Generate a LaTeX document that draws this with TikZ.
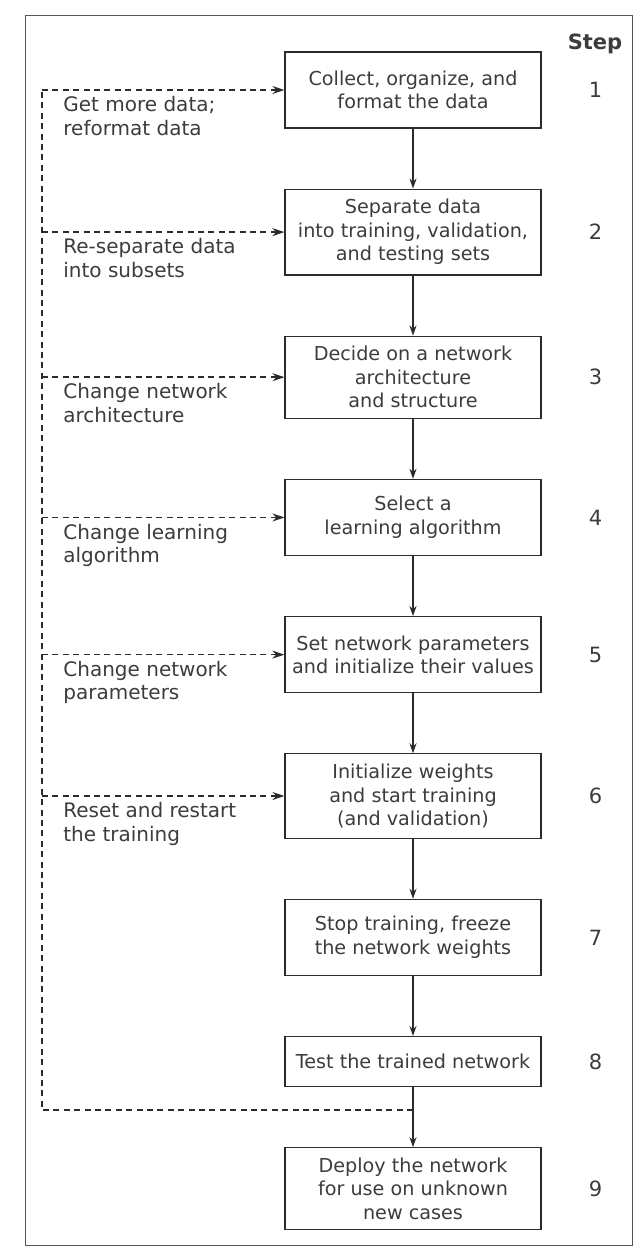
\documentclass[tikz,border=0pt]{standalone}
\usepackage{fontspec}
\setmainfont{DejaVu Sans}
\usetikzlibrary{arrows.meta,positioning}
\definecolor{flowInk}{HTML}{2B2B2B}
\definecolor{flowText}{HTML}{3C3C3C}
\definecolor{flowFrame}{HTML}{555555}

\begin{document}
\begin{tikzpicture}[
  x=1pt,y=1pt,
  node distance=30pt,
  stagebox/.style={rectangle,draw=flowInk,line width=0.6pt,align=center,minimum width=128pt,minimum height=38pt,inner xsep=2pt,inner ysep=5pt,text=flowText,font=\fontsize{9.6}{11.8}\selectfont},
  stepnum/.style={text=flowText,font=\fontsize{10.5}{12}\selectfont},
  note/.style={align=left,anchor=north west,inner sep=1pt,text=flowText,font=\fontsize{10}{11.8}\selectfont},
  flow/.style={-{Stealth[length=5pt,width=3.5pt]},line width=0.8pt,color=flowInk},
  feedback/.style={dash pattern=on 3pt off 2.2pt,line width=0.8pt,color=flowInk},
  feedarrow/.style={feedback,-{Stealth[length=6pt,width=4pt]}}
]
\useasboundingbox (0,0) rectangle (321,-629);
\draw[flowFrame,line width=0.5pt] (12.5,-7.5) rectangle (316,-622.5);

\node[stagebox] (collect) at (206.5,-45) {Collect, organize, and\\format the data};
\node[stagebox,below=of collect] (separate) {Separate data\\into training, validation,\\and testing sets};
\node[stagebox,below=of separate] (architecture) {Decide on a network\\architecture\\and structure};
\node[stagebox,below=of architecture] (algorithm) {Select a\\learning algorithm};
\node[stagebox,below=of algorithm] (parameters) {Set network parameters\\and initialize their values};
\node[stagebox,below=of parameters] (training) {Initialize weights\\and start training\\(and validation)};
\node[stagebox,below=of training] (freeze) {Stop training, freeze\\the network weights};
\node[stagebox,below=of freeze,minimum height=25pt] (test) {Test the trained network};
\node[stagebox,below=of test] (deploy) {Deploy the network\\for use on unknown\\new cases};

\node[stepnum,font=\fontsize{10.5}{12}\selectfont\bfseries] (steplabel) at (297.5,-22) {Step};
\foreach \nd/\k in {collect/1,separate/2,architecture/3,algorithm/4,parameters/5,training/6,freeze/7,test/8,deploy/9}
  \node[stepnum] (num\k) at ([xshift=27pt]\nd.east) {\k};

\draw[flow] (collect) -- (separate);
\draw[flow] (separate) -- (architecture);
\draw[flow] (architecture) -- (algorithm);
\draw[flow] (algorithm) -- (parameters);
\draw[flow] (parameters) -- (training);
\draw[flow] (training) -- (freeze);
\draw[flow] (freeze) -- (test);
\draw[flow] (test) -- (deploy);

\coordinate (rail) at (21,0);
\coordinate (tap) at ([yshift=-11.5pt]test.south);
\draw[feedback] (tap) -| (collect.west -| rail);
\foreach \nd in {collect,separate,architecture,algorithm,parameters,training}
  \draw[feedarrow] (\nd.west -| rail) -- (\nd.west);

\node[note,xshift=9.5pt,yshift=-2pt] (moredata) at (collect.west -| rail) {Get more data;\\reformat data};
\node[note,xshift=9.5pt,yshift=-2pt] (resplit) at (separate.west -| rail) {Re-separate data\\into subsets};
\node[note,xshift=9.5pt,yshift=-2pt] (newarch) at (architecture.west -| rail) {Change network\\architecture};
\node[note,xshift=9.5pt,yshift=-2pt] (newalgo) at (algorithm.west -| rail) {Change learning\\algorithm};
\node[note,xshift=9.5pt,yshift=-2pt] (newparams) at (parameters.west -| rail) {Change network\\parameters};
\node[note,xshift=9.5pt,yshift=-2pt] (restart) at (training.west -| rail) {Reset and restart\\the training};
\end{tikzpicture}
\end{document}
